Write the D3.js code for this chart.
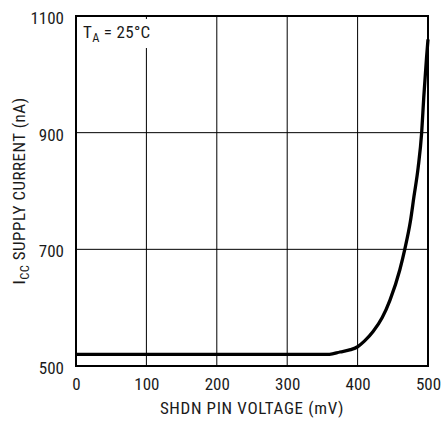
<!DOCTYPE html>
<html>
<head>
<meta charset="utf-8">
<script src="https://cdn.jsdelivr.net/npm/d3@7"></script>
<style>
  body { margin: 0; background: #fff; }
  text { font-family: "Roboto Condensed", Roboto, sans-serif; fill: #1a1a1a; }
</style>
</head>
<body>
<div id="chart"></div>
<script>
const voltage = [0, 100, 200, 300, 360, 375, 390, 400, 410, 422, 435, 446, 460, 467, 475, 480, 486, 491, 494, 498, 500];
const current = [520, 520, 520, 520, 520, 524, 528, 533, 543, 559, 583, 613, 665, 700, 748, 790, 840, 900, 961, 1030, 1060];
const xTicks = [0, 100, 200, 300, 400, 500];
const yTicks = [500, 700, 900, 1100];

const width = 442, height = 425;
const margin = {top: 16, right: 14, bottom: 59, left: 76};
const innerwidth = width - margin.left - margin.right;
const innerheight = height - margin.top - margin.bottom;

const svg = d3.select("#chart")
    .append("svg")
    .attr("width", width)
    .attr("height", height);

const inner = svg.append("g")
    .attr("transform", `translate(${margin.left},${margin.top})`);

const xScale = d3.scaleLinear().domain([0, 500]).range([0, innerwidth]);
const yScale = d3.scaleLinear().domain([500, 1100]).range([innerheight, 0]);

// grid
inner.selectAll(".vgrid")
    .data(xTicks.slice(1, -1))
    .join("line")
    .attr("x1", d => xScale(d)).attr("x2", d => xScale(d))
    .attr("y1", 0).attr("y2", innerheight)
    .attr("stroke", "#000").attr("stroke-width", 1);

inner.selectAll(".hgrid")
    .data(yTicks.slice(1, -1))
    .join("line")
    .attr("x1", 0).attr("x2", innerwidth)
    .attr("y1", d => yScale(d)).attr("y2", d => yScale(d))
    .attr("stroke", "#000").attr("stroke-width", 1);

// label background
inner.append("rect")
    .attr("x", 2).attr("y", 3)
    .attr("width", 82).attr("height", 29)
    .attr("fill", "#fff");

const label = inner.append("text")
    .attr("x", 7).attr("y", 22)
    .attr("font-size", 17)
    .attr("letter-spacing", 0.3);
label.append("tspan").text("T");
label.append("tspan").attr("font-size", 12.5).attr("dy", 4).text("A");
label.append("tspan").attr("dy", -4).text(" = 25°C");

// curve
const line = d3.line()
    .x((d, i) => xScale(voltage[i]))
    .y(d => yScale(d))
    .curve(d3.curveMonotoneX);

inner.append("path")
    .datum(current)
    .attr("d", line)
    .attr("fill", "none")
    .attr("stroke", "#000")
    .attr("stroke-width", 3.3);

// frame
inner.append("rect")
    .attr("width", innerwidth).attr("height", innerheight)
    .attr("fill", "none")
    .attr("stroke", "#000")
    .attr("stroke-width", 2);

// axes (labels only)
const bottomAxis = d3.axisBottom(xScale).tickValues(xTicks).tickSize(0).tickPadding(12).tickFormat(d3.format("d"));
inner.append("g")
    .attr("transform", `translate(0,${innerheight})`)
    .call(bottomAxis)
    .call(g => g.select(".domain").remove())
    .attr("font-family", null)
    .selectAll("text")
    .attr("font-size", 17);

const leftAxis = d3.axisLeft(yScale).tickValues(yTicks).tickSize(0).tickPadding(12).tickFormat(d3.format("d"));
inner.append("g")
    .call(leftAxis)
    .call(g => g.select(".domain").remove())
    .attr("font-family", null)
    .selectAll("text")
    .attr("font-size", 17)
    .attr("dy", "0.45em");

svg.append("text")
    .text("SHDN PIN VOLTAGE (mV)")
    .attr("text-anchor", "middle")
    .attr("x", margin.left + innerwidth / 2)
    .attr("y", 414)
    .attr("font-size", 17)
    .attr("letter-spacing", 0.65);

const ylab = svg.append("text")
    .attr("text-anchor", "middle")
    .attr("transform", `translate(25,${margin.top + innerheight / 2}) rotate(-90)`)
    .attr("font-size", 17)
    .attr("letter-spacing", 0.5);
ylab.append("tspan").text("I");
ylab.append("tspan").attr("font-size", 12.5).attr("dy", 4).text("CC");
ylab.append("tspan").attr("dy", -4).text(" SUPPLY CURRENT (nA)");
</script>
</body>
</html>
